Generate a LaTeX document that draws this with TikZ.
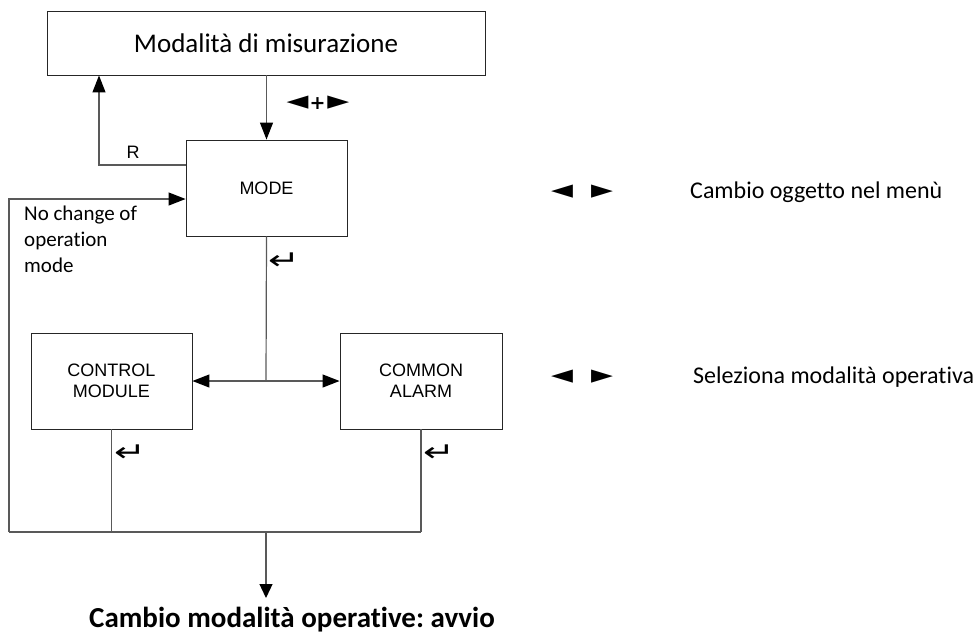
\documentclass[tikz,border=0pt]{standalone}
\usepackage{fontspec}
\usepackage{graphicx}
\setmainfont[Ligatures=CommonOff]{Carlito}
\newfontfamily\arialf{Liberation Sans}
\newfontfamily\symf{DejaVu Sans}
\usetikzlibrary{arrows.meta}
\frenchspacing
\newcommand{\ltri}{\scalebox{1.5}[1.4]{◄}}
\newcommand{\rtri}{\scalebox{1.5}[1.4]{►}}
\newcommand{\entr}{\scalebox{2.0}[1.4]{↵}}
\tikzset{
  box/.style={draw=black!85, line width=0.9pt, inner sep=0pt, font=\arialf\fontsize{18}{21}\selectfont, align=center},
  conn/.style={draw=black!65, line width=1.2pt},
  arr/.style={conn, -{Triangle[length=17pt,width=13pt,fill=black,color=black]}},
  cal/.style={font=\fontsize{21}{26}\selectfont, inner sep=0pt},
  sym/.style={font=\symf\fontsize{19}{22}\selectfont, inner sep=0pt},
}
\begin{document}
\begin{tikzpicture}[x=1pt,y=-1pt]
\useasboundingbox (0,0) rectangle (976,635);
% boxes
\node[box, minimum width=438pt, minimum height=64pt, font=\fontsize{27}{32}\selectfont] (top) at (266,43) {Modalità di misurazione};
\node[box, minimum width=161pt, minimum height=96pt] (mode) at (266.5,188) {MODE};
\node[box, minimum width=161pt, minimum height=96pt] (ctrl) at (111.5,381) {CONTROL\\MODULE};
\node[box, minimum width=162pt, minimum height=96pt] (alarm) at (421,381) {COMMON\\ALARM};
% coordinates
\coordinate (rc) at (99,165);
\coordinate (nl) at (9,199);
\coordinate (nb) at (9,532);
\coordinate (jn) at (266,381);
\coordinate (cb) at (111.5,532);
\coordinate (ab) at (421,532);
\coordinate (bm) at (266,532);
\coordinate (end) at (266,598);
% connectors
\draw[arr] (top.south -| mode.north) -- (mode.north);
\draw[arr] (mode.west |- rc) -- (rc) -- (rc |- top.south);
\draw[arr] (nb) -- (nl) -- (nl -| mode.west);
\draw[conn] (mode.south) -- (jn);
\draw[arr] (jn) -- (ctrl.east);
\draw[arr] (jn) -- (alarm.west);
\draw[conn] (ctrl.south) -- (cb);
\draw[conn] (alarm.south) -- (ab);
\draw[conn] (nb) -- (ab);
\draw[arr, -{Triangle[length=14pt,width=13pt,fill=black,color=black]}] (bm) -- (end);
% labels
\node[font=\arialf\fontsize{18}{21}\selectfont, inner sep=0pt] (rl) at (133,152) {R};
\node[sym] (pm) at (318,103) {\ltri\hspace{1pt}\textbf{+}\hspace{2pt}\rtri};
\node[cal, align=left, anchor=north west] (nc) at (24,206) {No change of\\operation\\mode};
\node[sym] (e1) at (284,261) {\entr};
\node[sym] (e2) at (130,453) {\entr};
\node[sym] (e3) at (439,453) {\entr};
\node[sym] (k1) at (582,192) {\ltri\hspace{18pt}\rtri};
\node[sym] (k2) at (582,377) {\ltri\hspace{18pt}\rtri};
\node[cal, anchor=west, font=\fontsize{24}{28}\selectfont] (t1) at (690,192) {Cambio oggetto nel menù};
\node[cal, anchor=west, font=\fontsize{24}{28}\selectfont] (t2) at (693,377) {Seleziona modalità operativa};
\node[cal, font=\bfseries\fontsize{29}{34}\selectfont] (bt) at (292,620) {Cambio modalità operative: avvio};
\end{tikzpicture}
\end{document}
